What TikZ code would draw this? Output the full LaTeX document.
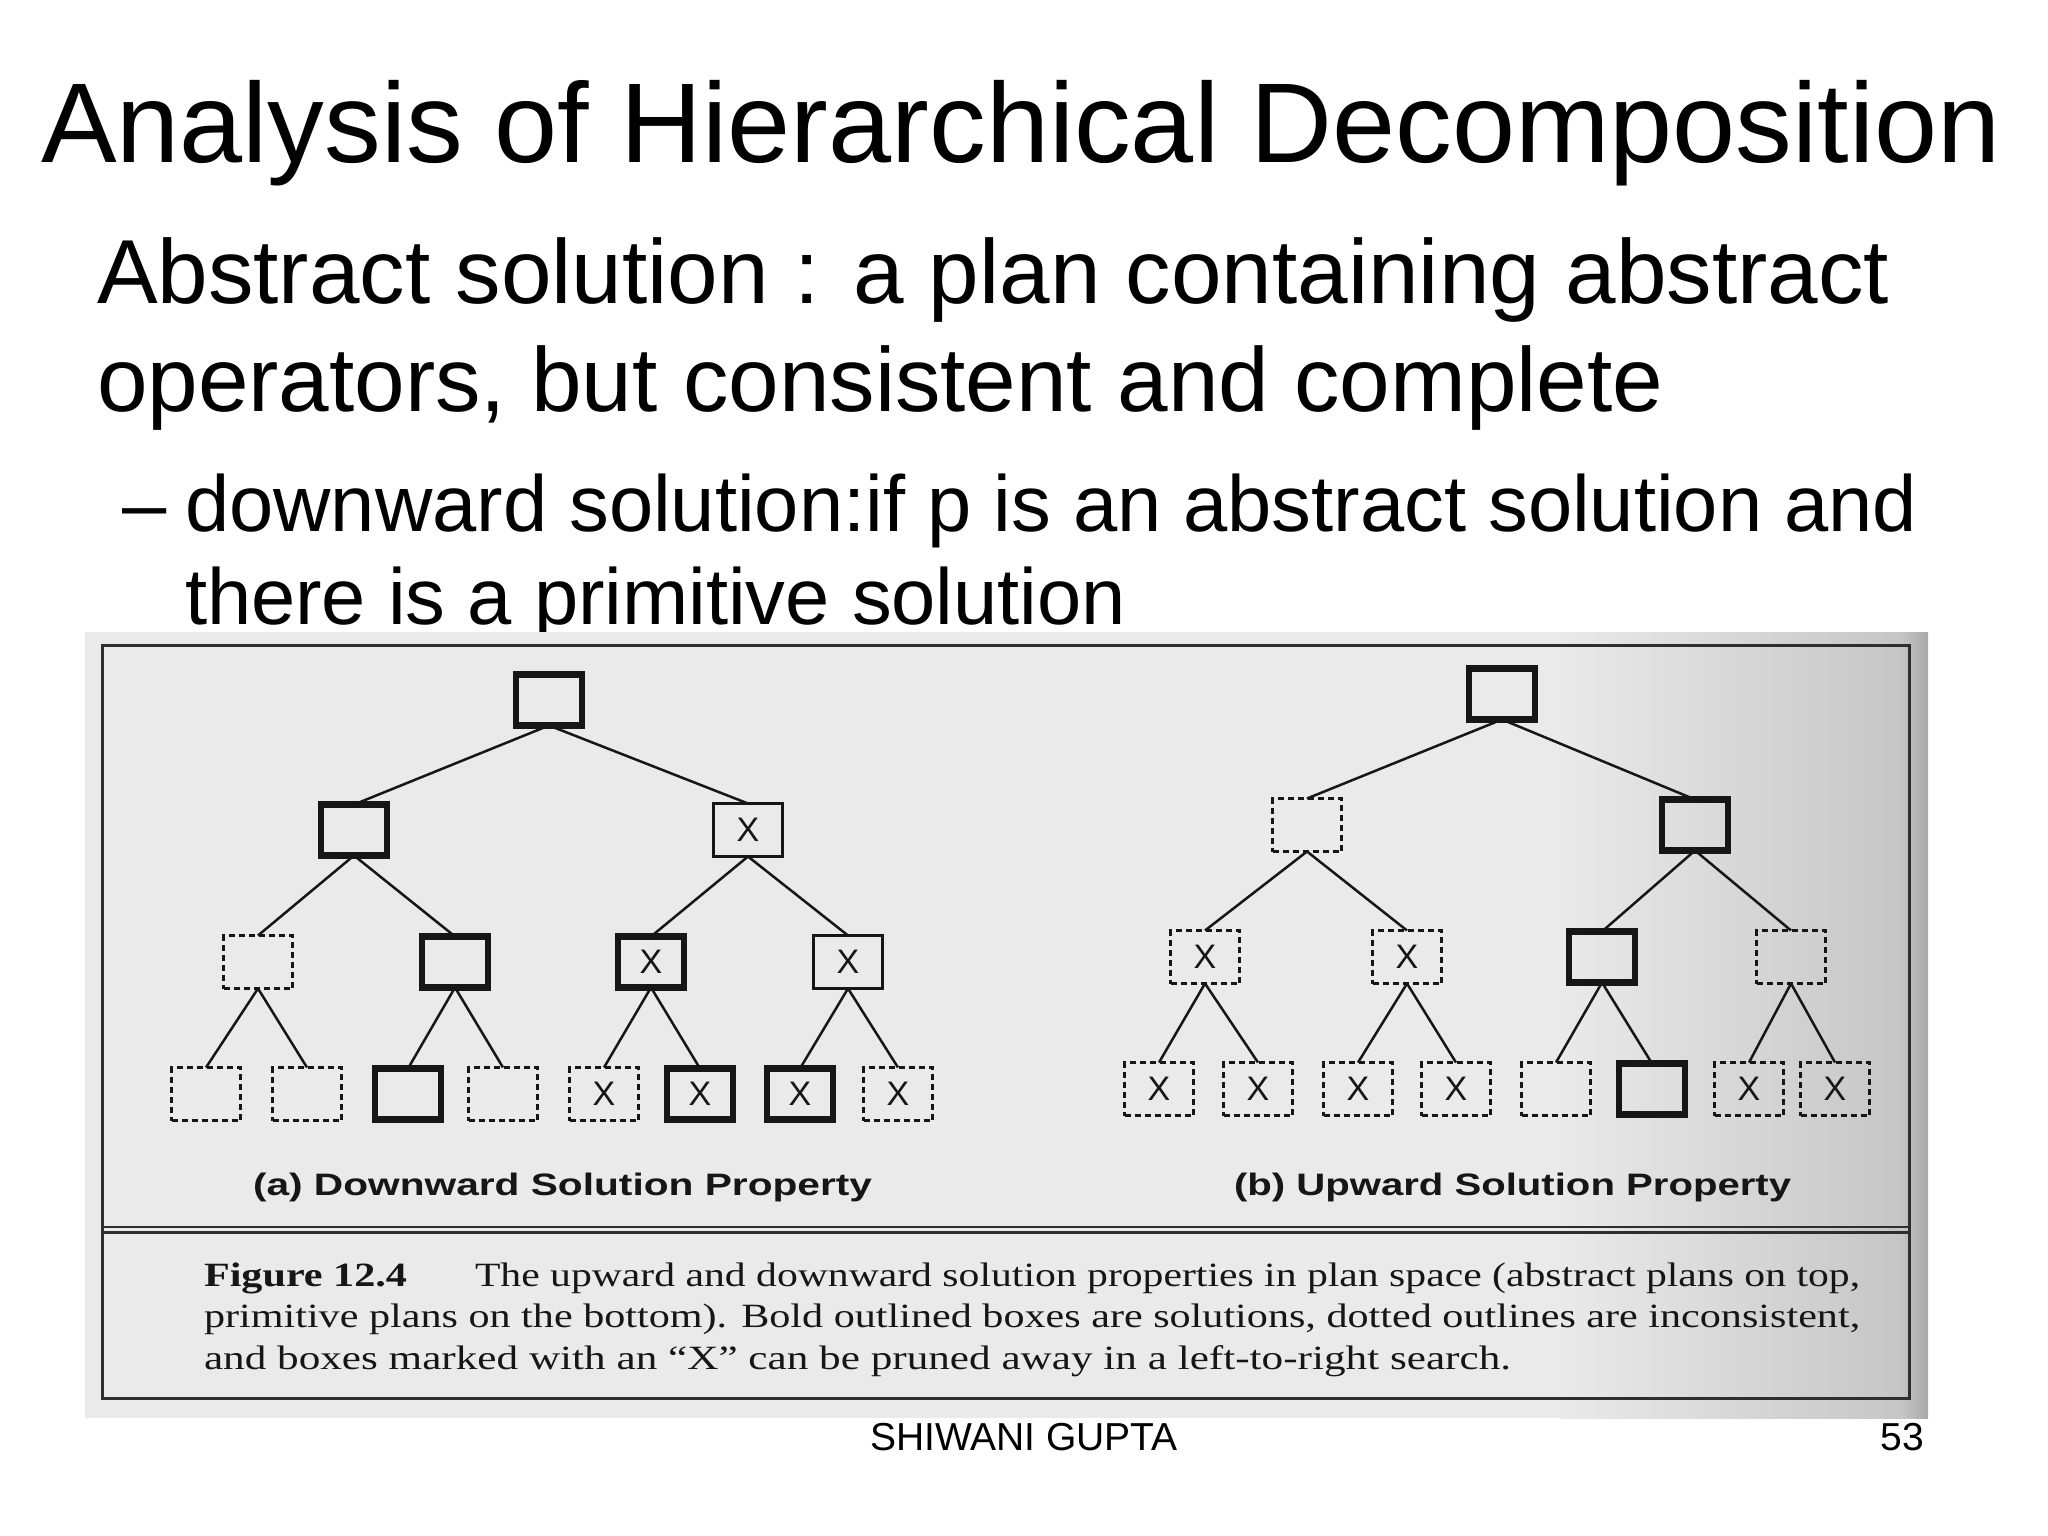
\documentclass[tikz,border=0pt]{standalone}
\usepackage{fontspec}
\setmainfont{Liberation Sans}
\newfontfamily\capserif{Liberation Serif}
\usepackage{graphicx}
\definecolor{ink}{HTML}{161616}
\definecolor{photobg}{HTML}{EAEAEA}
\definecolor{shadowmid}{HTML}{C6C6C6}
\definecolor{shadowgray}{HTML}{A9A9A9}
\definecolor{framecol}{HTML}{2E2E2E}
\newcommand{\fsz}[1]{\fontsize{#1}{#1}\selectfont}
\begin{document}
\begin{tikzpicture}[x=1pt,y=-1pt,
  txt/.style={inner sep=0pt, outer sep=0pt, anchor=base west},
  bx/.style={draw=ink, line width=3pt, minimum width=69pt, minimum height=53pt,
             inner sep=0pt, outer sep=0pt, font=\fsz{34}, text=ink},
  boldbx/.style={bx, line width=6.5pt, minimum width=66pt, minimum height=51pt},
  dashbx/.style={bx, line width=3.3pt, dash pattern=on 6pt off 4pt},
  branch/.style={draw=ink, line width=2.5pt},
  rulecol/.style={draw=framecol, line width=3pt}]
\useasboundingbox (0,0) rectangle (2048,1536);
\fill[white] (0,0) rectangle (2048,1536);

% slide text
\node[txt, font=\fsz{113.4}] (title) at (41,163) {Analysis of Hierarchical Decomposition};
\node[txt, font=\fsz{90.9}] (sub1) at (97,303) {Abstract solution : a plan containing abstract};
\node[txt, font=\fsz{90.9}] (sub2) at (97,411) {operators, but consistent and complete};
\node[txt, font=\fsz{79.5}] (dash) at (122,531) {–};
\node[txt, font=\fsz{79.5}] (bul1) at (185,531) {downward solution:if p is an abstract solution and};
\node[txt, font=\fsz{79.5}] (bul2) at (185,624) {there is a primitive solution};

% photo of the book figure
\fill[photobg] (85,632) rectangle (1928,1418);
\shade[left color=photobg, right color=shadowmid] (1560,632) rectangle (1900,1418);
\shade[left color=shadowmid, right color=shadowgray] (1900,632) rectangle (1928,1418);
\draw[rulecol] (102,645) rectangle (1909,1398);
\draw[rulecol, line width=2.5pt] (102,1227) -- (1909,1227);
\draw[rulecol, line width=2.5pt] (102,1232.5) -- (1909,1232.5);

% tree (a)
\node[boldbx] (a0) at (549,700) {};
\node[boldbx] (a1) at (354,830) {};
\node[bx]     (a2) at (748,830) {X};
\node[dashbx] (a3) at (258,962) {};
\node[boldbx] (a4) at (455,962) {};
\node[boldbx] (a5) at (651,962) {X};
\node[bx]     (a6) at (848,962) {X};
\node[dashbx] (a7) at (206,1094) {};
\node[dashbx] (a8) at (307,1094) {};
\node[boldbx] (a9) at (408,1094) {};
\node[dashbx] (a10) at (503,1094) {};
\node[dashbx] (a11) at (604,1094) {X};
\node[boldbx] (a12) at (700,1094) {X};
\node[boldbx] (a13) at (800,1094) {X};
\node[dashbx] (a14) at (898,1094) {X};
\foreach \p/\c in {a0/a1,a0/a2,a1/a3,a1/a4,a2/a5,a2/a6,a3/a7,a3/a8,a4/a9,a4/a10,a5/a11,a5/a12,a6/a13,a6/a14}
  \draw[branch] (\p.south) -- (\c.north);

% tree (b)
\node[boldbx] (b0) at (1502,694) {};
\node[dashbx] (b1) at (1307,825) {};
\node[boldbx] (b2) at (1695,825) {};
\node[dashbx] (b3) at (1205,957) {X};
\node[dashbx] (b4) at (1407,957) {X};
\node[boldbx] (b5) at (1602,957) {};
\node[dashbx] (b6) at (1791,957) {};
\node[dashbx] (b7) at (1159,1089) {X};
\node[dashbx] (b8) at (1258,1089) {X};
\node[dashbx] (b9) at (1358,1089) {X};
\node[dashbx] (b10) at (1456,1089) {X};
\node[dashbx] (b11) at (1556,1089) {};
\node[boldbx] (b12) at (1652,1089) {};
\node[dashbx] (b13) at (1749,1089) {X};
\node[dashbx] (b14) at (1835,1089) {X};
\foreach \p/\c in {b0/b1,b0/b2,b1/b3,b1/b4,b2/b5,b2/b6,b3/b7,b3/b8,b4/b9,b4/b10,b5/b11,b5/b12,b6/b13,b6/b14}
  \draw[branch] (\p.south) -- (\c.north);

% sub-figure labels
\node[txt, font=\fsz{31}\bfseries, text=ink] (labA) at (253,1195)
  {\resizebox{619pt}{\height}{(a) Downward Solution Property}};
\node[txt, font=\fsz{31}\bfseries, text=ink] (labB) at (1234,1195)
  {\resizebox{557pt}{\height}{(b) Upward Solution Property}};

% caption
\node[txt, font=\capserif\fsz{34}\bfseries, text=ink] (capno) at (204,1286)
  {\resizebox{203pt}{\height}{Figure 12.4}};
\node[txt, font=\capserif\fsz{34}, text=ink] (cap1) at (475,1286)
  {\resizebox{1385pt}{\height}{The upward and downward solution properties in plan space (abstract plans on top,}};
\node[txt, font=\capserif\fsz{34}, text=ink] (cap2) at (204,1327)
  {\resizebox{1656pt}{\height}{primitive plans on the bottom). Bold outlined boxes are solutions, dotted outlines are inconsistent,}};
\node[txt, font=\capserif\fsz{34}, text=ink] (cap3) at (204,1369)
  {\resizebox{1307pt}{\height}{and boxes marked with an “X” can be pruned away in a left-to-right search.}};

% footer
\node[inner sep=0pt, anchor=base, font=\fsz{39}] (author) at (1024,1450) {SHIWANI GUPTA};
\node[inner sep=0pt, anchor=base east, font=\fsz{39}] (page) at (1924,1450) {53};
\end{tikzpicture}
\end{document}
